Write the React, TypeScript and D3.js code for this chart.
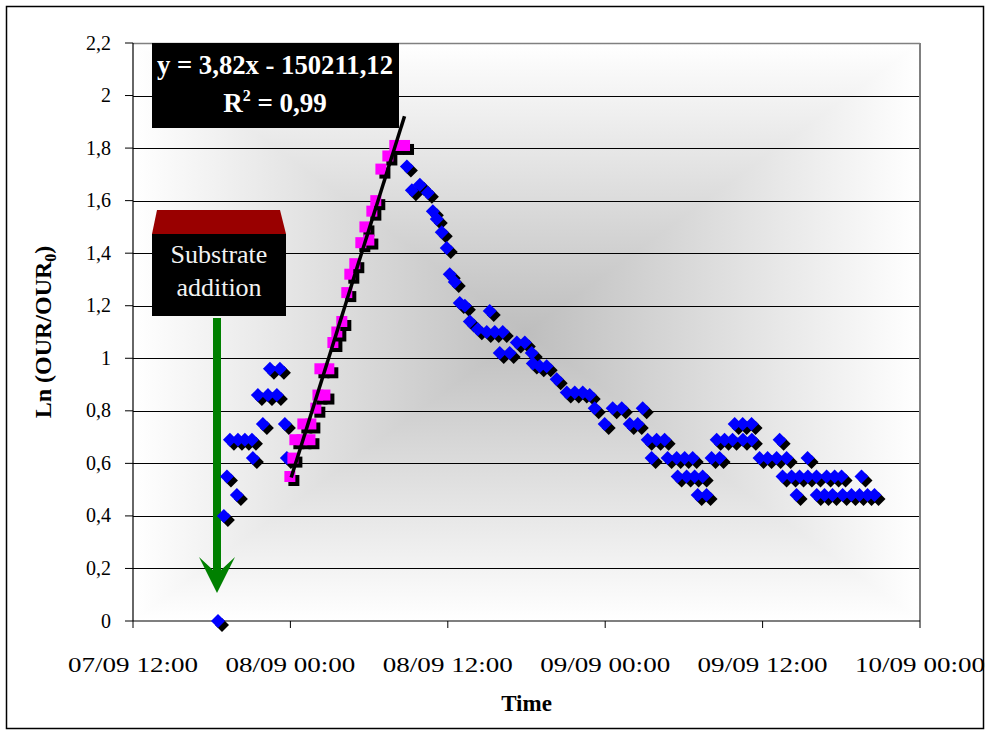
import React from 'react';
import * as d3 from 'd3';

// hours after 07/09 12:00, ln(OUR/OUR0)
const START = '2007-09-07T12:00';
const END = '2007-09-10T00:00';
const X_TICKS = ['2007-09-07T12:00', '2007-09-08T00:00', '2007-09-08T12:00', '2007-09-09T00:00', '2007-09-09T12:00', '2007-09-10T00:00'];
const Y_TICKS = [0, 0.2, 0.4, 0.6, 0.8, 1, 1.2, 1.4, 1.6, 1.8, 2, 2.2];

const BLUE_BEFORE: [number, number][] = [
  [6.48, 0.0], [6.93, 0.40], [7.16, 0.55], [7.39, 0.69], [7.92, 0.48], [8.0, 0.69],
  [8.53, 0.69], [9.07, 0.69], [9.14, 0.62], [9.52, 0.86], [9.9, 0.75], [10.29, 0.86],
  [10.44, 0.96], [10.97, 0.86], [11.2, 0.96], [11.58, 0.75], [11.73, 0.62],
];

const MAGENTA: [number, number][] = [
  [11.96, 0.55], [12.19, 0.62], [12.34, 0.69], [12.88, 0.69], [12.95, 0.75], [13.49, 0.69],
  [13.56, 0.75], [13.94, 0.81], [14.1, 0.86], [14.25, 0.96], [14.63, 0.86], [14.93, 0.96],
  [15.24, 1.06], [15.54, 1.1], [15.92, 1.14], [16.3, 1.25], [16.53, 1.32], [16.91, 1.36],
  [17.37, 1.44], [17.68, 1.5], [17.98, 1.45], [18.21, 1.56], [18.51, 1.6], [18.9, 1.72],
  [19.43, 1.77], [19.96, 1.81], [20.7, 1.81],
];

const BLUE_AFTER: [number, number][] = [
  [20.88, 1.73], [21.26, 1.64], [21.87, 1.66], [22.48, 1.63], [22.86, 1.56], [23.16, 1.53],
  [23.54, 1.48], [23.92, 1.42], [24.15, 1.32], [24.53, 1.29], [24.91, 1.21], [25.3, 1.2],
  [25.68, 1.14], [26.29, 1.11], [26.97, 1.1], [27.2, 1.18], [27.58, 1.1], [27.96, 1.02],
  [28.19, 1.1], [28.72, 1.02], [29.26, 1.06], [29.87, 1.06], [30.4, 1.02], [30.48, 0.98],
  [31.01, 0.97], [31.54, 0.97], [32.3, 0.92], [33.07, 0.87], [33.68, 0.87], [34.29, 0.87],
  [34.82, 0.86], [35.2, 0.81], [35.96, 0.75], [36.57, 0.81], [37.26, 0.81], [37.87, 0.75],
  [38.48, 0.75], [38.86, 0.81], [39.24, 0.69], [39.54, 0.62], [39.92, 0.69], [40.53, 0.69],
  [40.76, 0.62], [41.45, 0.62], [41.52, 0.55], [42.06, 0.62], [42.21, 0.55], [42.67, 0.62],
  [42.82, 0.55], [43.05, 0.48], [43.43, 0.55], [43.73, 0.48], [44.11, 0.62], [44.5, 0.69],
  [44.72, 0.62], [45.1, 0.69], [45.71, 0.69], [45.87, 0.75], [46.48, 0.75], [46.5, 0.69],
  [47.16, 0.75], [47.18, 0.69], [47.77, 0.62], [48.38, 0.62], [49.07, 0.62], [49.3, 0.69],
  [49.52, 0.55], [49.83, 0.62], [50.21, 0.55], [50.59, 0.48], [50.82, 0.55], [51.43, 0.62],
  [51.45, 0.55], [52.11, 0.55], [52.13, 0.48], [52.72, 0.48], [52.88, 0.55], [53.33, 0.48],
  [53.49, 0.55], [54.02, 0.55], [54.1, 0.48], [54.78, 0.48], [55.39, 0.48], [55.54, 0.55],
  [56.0, 0.48], [56.53, 0.48],
];

const EQUATION = 'y = 3,82x - 150211,12';
const R2_TEXT = ' = 0,99';
const SLOPE_PER_DAY = 3.82;
const TREND_START_VALUE = 0.53; // where the fitted line begins
const ANNOTATION = ['Substrate', 'addition'];

const W = 990;
const H = 736;
const SERIF = "'Times New Roman', 'Liberation Serif', serif";

const parse = d3.timeParse('%Y-%m-%dT%H:%M');
const t0 = parse(START)!.getTime();
const atHour = (h: number) => new Date(t0 + h * 3600 * 1000);
const fmtX = d3.timeFormat('%d/%m %H:%M');
const fmtY = d3.formatLocale({ decimal: ',', thousands: '.', grouping: [3], currency: ['', ''] }).format('~g');

export default function App() {
  const x = d3.scaleTime().domain([parse(START)!, parse(END)!]).range([133, 920]);
  const y = d3.scaleLinear().domain([0, 2.2]).range([621, 43]);
  const [L, R] = x.range();
  const [B, T] = y.range();
  const cx = (L + R) / 2;
  const cy = (T + B) / 2;

  const blue = BLUE_BEFORE.concat(BLUE_AFTER);

  // trend line over the magenta points, slope taken from the equation (per day)
  const hExt = d3.extent(MAGENTA, (d) => d[0]) as [number, number];
  const trend = (h: number) => TREND_START_VALUE + (SLOPE_PER_DAY / 24) * (h - hExt[0]);
  const trendPath = d3.line<number>().x((h) => x(atHour(h))).y((h) => y(trend(h)))([hExt[0] + 0.1, hExt[1]]);

  const r = 7;
  const diamond = `M0,${-r}L${r},0L0,${r}L${-r},0Z`;
  const sq = 11;
  const off = 4;

  return (
    <svg width={W} height={H} style={{ position: 'absolute', left: 0, top: 0, background: '#fff' }} fontFamily={SERIF}>
      <defs>
        <linearGradient id="gT" gradientUnits="userSpaceOnUse" x1={0} y1={T} x2={0} y2={cy}>
          <stop offset="0" stopColor="#ffffff" />
          <stop offset="1" stopColor="#bebebe" />
        </linearGradient>
        <linearGradient id="gB" gradientUnits="userSpaceOnUse" x1={0} y1={B} x2={0} y2={cy}>
          <stop offset="0" stopColor="#ffffff" />
          <stop offset="1" stopColor="#bebebe" />
        </linearGradient>
        <linearGradient id="gL" gradientUnits="userSpaceOnUse" x1={L} y1={0} x2={cx} y2={0}>
          <stop offset="0" stopColor="#ffffff" />
          <stop offset="1" stopColor="#bebebe" />
        </linearGradient>
        <linearGradient id="gR" gradientUnits="userSpaceOnUse" x1={R} y1={0} x2={cx} y2={0}>
          <stop offset="0" stopColor="#ffffff" />
          <stop offset="1" stopColor="#bebebe" />
        </linearGradient>
      </defs>

      <rect x={6.5} y={6.5} width={977} height={722} fill="#fff" stroke="#000" strokeWidth={1.5} />

      {/* plot area background */}
      <g shapeRendering="crispEdges">
        <polygon points={`${L},${T} ${R},${T} ${cx},${cy}`} fill="url(#gT)" />
        <polygon points={`${L},${B} ${R},${B} ${cx},${cy}`} fill="url(#gB)" />
        <polygon points={`${L},${T} ${L},${B} ${cx},${cy}`} fill="url(#gL)" />
        <polygon points={`${R},${T} ${R},${B} ${cx},${cy}`} fill="url(#gR)" />
      </g>

      {/* gridlines */}
      {Y_TICKS.slice(1, -1).map((v) => (
        <line key={v} x1={L} x2={R} y1={Math.round(y(v)) + 0.5} y2={Math.round(y(v)) + 0.5} stroke="#000" strokeWidth={1} />
      ))}
      <line x1={L} x2={R} y1={T + 0.5} y2={T + 0.5} stroke="#808080" strokeWidth={1.5} />
      <line x1={R} x2={R} y1={T} y2={B} stroke="#808080" strokeWidth={2} />

      {/* axes */}
      <line x1={L} x2={L} y1={T} y2={B} stroke="#000" strokeWidth={1.2} />
      <line x1={L} x2={R} y1={B} y2={B} stroke="#000" strokeWidth={1.2} />
      {Y_TICKS.map((v) => (
        <g key={v}>
          <line x1={L - 8} x2={L} y1={y(v)} y2={y(v)} stroke="#000" />
          <text x={111} y={y(v) + 6.5} textAnchor="end" fontSize={20}>{fmtY(v)}</text>
        </g>
      ))}
      {X_TICKS.map((s) => {
        const d = parse(s)!;
        return (
          <g key={s}>
            <line x1={x(d)} x2={x(d)} y1={B} y2={B + 7} stroke="#000" />
            <text x={x(d)} y={672} textAnchor="middle" fontSize={21} textLength={130} lengthAdjust="spacingAndGlyphs">{fmtX(d)}</text>
          </g>
        );
      })}

      <text x={(L + R) / 2} y={711} textAnchor="middle" fontSize={23} fontWeight="bold">Time</text>
      <text transform={`translate(51,${cy}) rotate(-90)`} textAnchor="middle" fontSize={24} fontWeight="bold">
        Ln (OUR/OUR<tspan dy={5} fontSize={16}>0</tspan><tspan dy={-5}>)</tspan>
      </text>

      {/* substrate addition box + arrow */}
      <polygon points="157,210 280,210 286,234 152,234" fill="#990000" />
      <rect x={152} y={234} width={134} height={82} fill="#000" />
      {ANNOTATION.map((s, i) => (
        <text key={s} x={219} y={263 + i * 33} textAnchor="middle" fontSize={26} fill="#f2f2f2">{s}</text>
      ))}
      <polygon points="213,318 221,318 221,570 235,557 217,593 199,557 213,570" fill="#008000" />

      {/* equation box */}
      <rect x={152} y={43} width={247} height={85} fill="#000" />
      <text x={275} y={74} textAnchor="middle" fontSize={27} fontWeight="bold" fill="#fff" textLength={236} lengthAdjust="spacingAndGlyphs">{EQUATION}</text>
      <text x={275} y={112} textAnchor="middle" fontSize={27} fontWeight="bold" fill="#fff">
        R<tspan dy={-11} fontSize={16}>2</tspan><tspan dy={11}>{R2_TEXT}</tspan>
      </text>

      {/* blue diamonds */}
      {blue.map(([h, v], i) => {
        const px = x(atHour(h));
        const py = y(v);
        return (
          <g key={'b' + i}>
            <path d={diamond} transform={`translate(${px + off},${py + off})`} fill="#000" />
            <path d={diamond} transform={`translate(${px},${py})`} fill="#0000ff" />
          </g>
        );
      })}

      {/* magenta squares */}
      {MAGENTA.map(([h, v], i) => {
        const px = x(atHour(h));
        const py = y(v);
        return (
          <g key={'m' + i}>
            <rect x={px - sq / 2 + off} y={py - sq / 2 + off} width={sq} height={sq} fill="#000" />
            <rect x={px - sq / 2} y={py - sq / 2} width={sq} height={sq} fill="#ff00ff" />
          </g>
        );
      })}

      <path d={trendPath ?? ''} fill="none" stroke="#000" strokeWidth={3.5} />
    </svg>
  );
}
